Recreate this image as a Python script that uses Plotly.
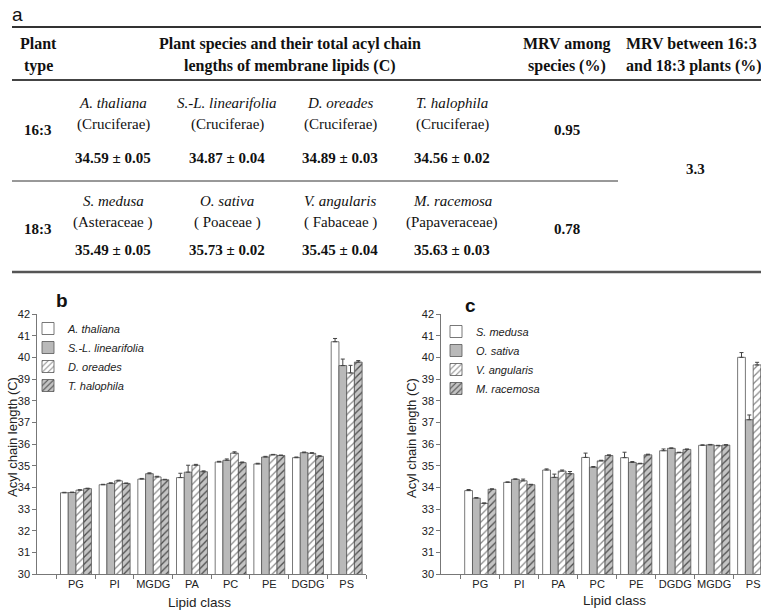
import plotly.graph_objects as go

W, H = 761, 613

# ---------------- data: table (panel a) ----------------
plant_types = ["16:3", "18:3"]
species_16 = ["A. thaliana", "S.-L. linearifolia", "D. oreades", "T. halophila"]
families_16 = ["(Cruciferae)", "(Cruciferae)", "(Cruciferae)", "(Cruciferae)"]
mean_16 = [34.59, 34.87, 34.89, 34.56]
sd_16 = [0.05, 0.04, 0.03, 0.02]
species_18 = ["S. medusa", "O. sativa", "V. angularis", "M. racemosa"]
families_18 = ["(Asteraceae )", "( Poaceae )", "( Fabaceae )", "(Papaveraceae)"]
mean_18 = [35.49, 35.73, 35.45, 35.63]
sd_18 = [0.05, 0.02, 0.04, 0.03]
mrv_among = ["0.95", "0.78"]
mrv_between = "3.3"

# ---------------- data: panel b (16:3 plants) ----------------
lipids_b = ["PG", "PI", "MGDG", "PA", "PC", "PE", "DGDG", "PS"]
names_b = ["A. thaliana", "S.-L. linearifolia", "D. oreades", "T. halophila"]
vals_b = [
    [33.75, 34.12, 34.38, 34.45, 35.17, 35.08, 35.37, 40.72],
    [33.76, 34.18, 34.63, 34.70, 35.25, 35.40, 35.60, 39.62],
    [33.87, 34.30, 34.48, 35.02, 35.58, 35.50, 35.57, 39.28],
    [33.94, 34.18, 34.35, 34.72, 35.14, 35.47, 35.43, 39.78],
]
errs_b = [
    [0.02, 0.02, 0.03, 0.20, 0.03, 0.03, 0.03, 0.15],
    [0.02, 0.03, 0.04, 0.32, 0.06, 0.03, 0.03, 0.30],
    [0.02, 0.03, 0.03, 0.04, 0.06, 0.02, 0.03, 0.35],
    [0.02, 0.02, 0.02, 0.04, 0.03, 0.02, 0.03, 0.07],
]

# ---------------- data: panel c (18:3 plants) ----------------
lipids_c = ["PG", "PI", "PA", "PC", "PE", "DGDG", "MGDG", "PS"]
names_c = ["S. medusa", "O. sativa", "V. angularis", "M. racemosa"]
vals_c = [
    [33.85, 34.23, 34.80, 35.38, 35.37, 35.69, 35.94, 40.00],
    [33.50, 34.37, 34.46, 34.93, 35.15, 35.80, 35.96, 37.12],
    [33.26, 34.30, 34.75, 35.22, 35.09, 35.60, 35.92, 39.65],
    [33.91, 34.12, 34.63, 35.47, 35.50, 35.75, 35.95, 39.50],
]
errs_c = [
    [0.05, 0.02, 0.05, 0.20, 0.25, 0.08, 0.02, 0.22],
    [0.03, 0.02, 0.15, 0.03, 0.04, 0.02, 0.02, 0.22],
    [0.02, 0.08, 0.05, 0.03, 0.02, 0.02, 0.02, 0.12],
    [0.02, 0.02, 0.10, 0.03, 0.03, 0.02, 0.02, 0.10],
]

# bar styles (white, grey, hatched white, hatched grey)
styles = [
    dict(color="white", pattern=dict(shape="")),
    dict(color="#b9b9b9", pattern=dict(shape="")),
    dict(color="white", pattern=dict(shape="/", fgcolor="#8a8a8a", bgcolor="white", size=5, solidity=0.25)),
    dict(color="#bdbdbd", pattern=dict(shape="/", fgcolor="#4a4a4a", bgcolor="#c4c4c4", size=5, solidity=0.25)),
]


def px(x):
    return x / W


def py(y):
    return 1 - y / H


fig = go.Figure()

for i, name in enumerate(names_b):
    st = styles[i]
    fig.add_trace(go.Bar(
        x=lipids_b, y=vals_b[i], name=name, xaxis="x", yaxis="y", legend="legend",
        marker=dict(color=st["color"], pattern=st["pattern"], line=dict(color="#555", width=0.8)),
        error_y=dict(type="data", array=errs_b[i], arrayminus=[0] * len(errs_b[i]), symmetric=False,
                     color="#444", thickness=1, width=2),
    ))

for i, name in enumerate(names_c):
    st = styles[i]
    fig.add_trace(go.Bar(
        x=lipids_c, y=vals_c[i], name=name, xaxis="x2", yaxis="y2", legend="legend2",
        marker=dict(color=st["color"], pattern=st["pattern"], line=dict(color="#555", width=0.8)),
        error_y=dict(type="data", array=errs_c[i], arrayminus=[0] * len(errs_c[i]), symmetric=False,
                     color="#444", thickness=1, width=2),
    ))

ax_common = dict(showline=True, linecolor="#777", linewidth=1, ticks="outside", ticklen=4,
                 tickcolor="#777", showgrid=False, zeroline=False, automargin=False,
                 tickfont=dict(family="Liberation Sans", size=11, color="#222"))

ydom = [py(574), py(314)]
fig.update_layout(
    template="none",
    width=W, height=H, margin=dict(l=0, r=0, t=0, b=0, autoexpand=False),
    paper_bgcolor="white", plot_bgcolor="white",
    barmode="group", bargap=0.2, bargroupgap=0,
    xaxis=dict(domain=[px(37.3), px(366)], type="category", range=[-1, 7.5], tickangle=0,
               tickson="boundaries", anchor="y", **ax_common),
    yaxis=dict(domain=ydom, range=[30, 42], dtick=1, anchor="x", **ax_common),
    xaxis2=dict(domain=[px(441.3), 1.0], type="category", range=[-1, 7.2], tickangle=0,
                tickson="boundaries", anchor="y2", **ax_common),
    yaxis2=dict(domain=ydom, range=[30, 42], dtick=1, anchor="x2", **ax_common),
    legend=dict(x=px(28), y=py(314), xanchor="left", yanchor="top", bgcolor="rgba(0,0,0,0)",
                font=dict(family="Liberation Sans", size=11, color="#222", style="italic"),
                tracegroupgap=0, traceorder="normal"),
    legend2=dict(x=px(436), y=py(317), xanchor="left", yanchor="top", bgcolor="rgba(0,0,0,0)",
                 font=dict(family="Liberation Sans", size=11, color="#222", style="italic"),
                 tracegroupgap=0, traceorder="normal"),
)

ann = []


def txt(x, y, s, size=15, bold=False, italic=False, family="Liberation Serif", xanchor="center",
        color="#111", textangle=0):
    s2 = f"<b>{s}</b>" if bold else s
    if italic:
        s2 = f"<i>{s2}</i>"
    ann.append(dict(x=px(x), y=py(y), xref="paper", yref="paper", text=s2, showarrow=False,
                    xanchor=xanchor, yanchor="middle", textangle=textangle,
                    font=dict(family=family, size=size, color=color)))


# panel labels
txt(17, 14, "a", size=19, family="Liberation Sans")
txt(62, 300, "b", size=19, family="Liberation Sans", bold=True)
txt(470, 305, "c", size=19, family="Liberation Sans", bold=True)

# table header
txt(38, 44, "Plant", 16, bold=True)
txt(38, 66, "type", 16, bold=True)
txt(290, 44, "Plant species and their total acyl chain", 16, bold=True)
txt(290, 66, "lengths of membrane lipids (C)", 16, bold=True)
txt(567, 44, "MRV among", 16, bold=True)
txt(567, 66, "species (%)", 16, bold=True)
txt(624, 44, "MRV between 16:3", 16, bold=True, xanchor="left")
txt(624, 66, "and 18:3 plants (%)", 16, bold=True, xanchor="left")

cols = [113, 227, 340, 452]
# row 16:3
txt(38, 130, plant_types[0], 15, bold=True)
for i in range(4):
    txt(cols[i], 103, species_16[i], 15, italic=True)
    txt(cols[i], 124, families_16[i], 15)
    txt(cols[i], 158, f"{mean_16[i]:.2f} ± {sd_16[i]:.2f}", 15, bold=True)
txt(567, 130, mrv_among[0], 15, bold=True)
# row 18:3
txt(38, 229, plant_types[1], 15, bold=True)
for i in range(4):
    txt(cols[i], 201, species_18[i], 15, italic=True)
    txt(cols[i], 223, families_18[i], 15)
    txt(cols[i], 250, f"{mean_18[i]:.2f} ± {sd_18[i]:.2f}", 15, bold=True)
txt(567, 229, mrv_among[1], 15, bold=True)
txt(695, 169, mrv_between, 15, bold=True)

# axis titles
txt(12, 437, "Acyl chain length (C)", 13, family="Liberation Sans", textangle=-90, color="#222")
txt(411, 438, "Acyl chain length (C)", 13, family="Liberation Sans", textangle=-90, color="#222")
txt(199, 602, "Lipid class", 13.5, family="Liberation Sans", color="#222")
txt(614, 600, "Lipid class", 13.5, family="Liberation Sans", color="#222")

shapes = []


def hline(y, x0, x1, w, c):
    shapes.append(dict(type="line", xref="paper", yref="paper", x0=px(x0), x1=px(x1), y0=py(y), y1=py(y),
                       line=dict(color=c, width=w)))


hline(27, 12, 761, 2, "#333")
hline(80, 12, 761, 2, "#444")
hline(181, 12, 618, 1, "#333")
hline(272, 12, 761, 2.5, "#555")

fig.update_layout(annotations=ann, shapes=shapes)
fig.write_html("out.html")
